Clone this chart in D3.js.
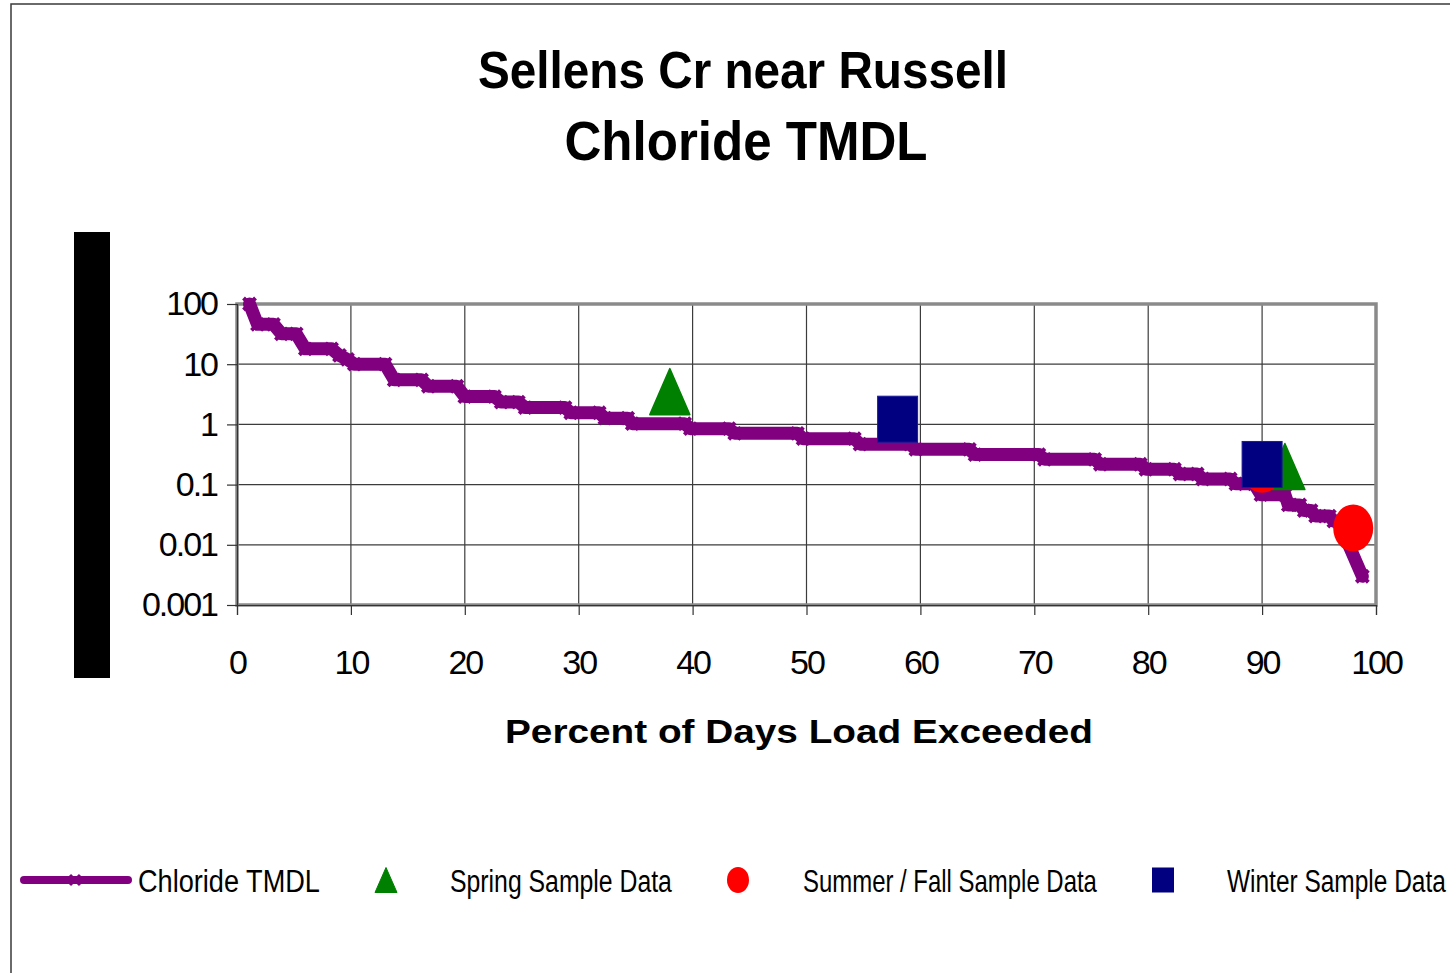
<!DOCTYPE html>
<html>
<head>
<meta charset="utf-8">
<script src="https://cdn.jsdelivr.net/npm/d3@7"></script>
<style>
  html, body { margin: 0; padding: 0; background: #ffffff; }
  svg { display: block; }
  text { font-family: "Liberation Sans", Arial, sans-serif; }
</style>
</head>
<body>
<svg id="chart" width="1450" height="973"></svg>
<script>
// ---------- data ----------
const titleLines = ["Sellens Cr near Russell", "Chloride TMDL"];
const xAxisTitle = "Percent of Days Load Exceeded";

const xTicks = [0, 10, 20, 30, 40, 50, 60, 70, 80, 90, 100];
const yTicks = [0.001, 0.01, 0.1, 1, 10, 100];
const yTickLabels = ["0.001", "0.01", "0.1", "1", "10", "100"];

// Chloride TMDL curve (percent of days exceeded, load)
const tmdlPct = [1.1, 1.8, 3.2, 3.9, 5.2, 6.0, 8.3, 9.0, 9.7, 10.3, 13.0, 13.8, 16.2, 16.8, 19.3, 20.0,
  22.6, 23.2, 24.7, 25.3, 28.8, 29.3, 31.8, 32.3, 34.3, 34.7, 39.3, 39.8, 43.2, 43.7, 49.2, 49.7,
  54.2, 54.7, 59.1, 59.6, 64.3, 64.8, 70.4, 70.9, 75.3, 75.8, 79.3, 79.8, 82.3, 82.8, 84.3, 84.8,
  87.2, 87.7, 89.3, 89.9, 92.0, 92.3, 93.3, 93.7, 94.3, 94.7, 95.9, 96.3, 96.7, 98.8];
const tmdlLoad = [100, 46, 46, 32, 32, 18, 18, 14, 12, 10, 10, 5.5, 5.5, 4.3, 4.3, 2.9,
  2.9, 2.35, 2.35, 1.9, 1.9, 1.56, 1.56, 1.27, 1.27, 1.03, 1.03, 0.85, 0.85, 0.71, 0.71, 0.58,
  0.58, 0.47, 0.47, 0.385, 0.385, 0.315, 0.315, 0.263, 0.263, 0.218, 0.218, 0.18, 0.18, 0.15, 0.15, 0.124,
  0.124, 0.103, 0.103, 0.068, 0.068, 0.046, 0.046, 0.037, 0.037, 0.030, 0.030, 0.0247, 0.0247, 0.003];

const springPct = [38, 92];
const springLoad = [3.5, 0.2];
const summerPct = [90, 98];
const summerLoad = [0.18, 0.019];
const winterPct = [58, 90];
const winterLoad = [1.22, 0.216];

const legendLabels = ["Chloride TMDL", "Spring Sample Data", "Summer / Fall Sample Data", "Winter Sample Data"];

// ---------- drawing ----------
const svg = d3.select("#chart");
const purple = "#800080", green = "#008000", red = "#ff0000", navy = "#000080";

// outer frame
svg.append("rect").attr("x", 11).attr("y", 4).attr("width", 1500).attr("height", 1000)
  .attr("fill", "#ffffff").attr("stroke", "#3a3a3a").attr("stroke-width", 1.5);

// title
svg.append("text").attr("x", 743).attr("y", 88).attr("text-anchor", "middle")
  .attr("font-size", 52).attr("font-weight", "bold").attr("fill", "#000")
  .attr("textLength", 530).attr("lengthAdjust", "spacingAndGlyphs").text(titleLines[0]);
svg.append("text").attr("x", 746).attr("y", 160).attr("text-anchor", "middle")
  .attr("font-size", 56).attr("font-weight", "bold").attr("fill", "#000")
  .attr("textLength", 363).attr("lengthAdjust", "spacingAndGlyphs").text(titleLines[1]);

// black y-axis title block
svg.append("rect").attr("x", 74).attr("y", 232).attr("width", 36).attr("height", 446).attr("fill", "#000");

// scales
const x = d3.scaleLinear().domain([0, 100]).range([237, 1376]);
const y = d3.scaleLog().domain([0.001, 100]).range([605, 304]);

// gridlines
const grid = svg.append("g");
grid.selectAll("line.h").data(yTicks).join("line")
  .attr("x1", x(0)).attr("x2", x(100)).attr("y1", d => y(d)).attr("y2", d => y(d))
  .attr("stroke", "#3c3c3c").attr("stroke-width", 1.2);
grid.selectAll("line.v").data(xTicks).join("line")
  .attr("y1", y(100)).attr("y2", y(0.001)).attr("x1", d => x(d)).attr("x2", d => x(d))
  .attr("stroke", "#3c3c3c").attr("stroke-width", 1.2);

// plot area border
svg.append("rect").attr("x", x(0)).attr("y", y(100)).attr("width", x(100) - x(0)).attr("height", y(0.001) - y(100))
  .attr("fill", "none").attr("stroke", "#8a8a8a").attr("stroke-width", 3.5);

// axes
const xAxis = d3.axisBottom(x).tickValues(xTicks).tickSize(10).tickPadding(30).tickFormat(d3.format("d"));
const gx = svg.append("g").attr("transform", `translate(0,${y(0.001)})`).call(xAxis);
gx.select(".domain").attr("stroke", "#333").attr("stroke-width", 1.2);
gx.selectAll(".tick line").attr("stroke", "#333").attr("stroke-width", 1.2);
gx.selectAll(".tick text").attr("font-size", 34).attr("fill", "#000").attr("letter-spacing", "-2px")
  .attr("font-family", "'Liberation Sans', Arial, sans-serif").attr("dy", "0.85em");

const yAxis = d3.axisLeft(y).tickValues(yTicks).tickSize(10).tickPadding(12)
  .tickFormat((d, i) => yTickLabels[i]);
const gy = svg.append("g").attr("transform", `translate(${x(0)},0)`).call(yAxis);
gy.select(".domain").attr("stroke", "#333").attr("stroke-width", 1.2);
gy.selectAll(".tick line").attr("stroke", "#333").attr("stroke-width", 1.2);
gy.selectAll(".tick text").attr("font-size", 34).attr("fill", "#000").attr("letter-spacing", "-2px")
  .attr("font-family", "'Liberation Sans', Arial, sans-serif").attr("dx", "2px");

// x-axis title
svg.append("text").attr("x", 799).attr("y", 743).attr("text-anchor", "middle")
  .attr("font-size", 33).attr("font-weight", "bold").attr("fill", "#000")
  .attr("textLength", 588).attr("lengthAdjust", "spacingAndGlyphs").text(xAxisTitle);

// TMDL line
const tmdl = tmdlPct.map((p, i) => ({ p, v: tmdlLoad[i] }));
const line = d3.line().x(d => x(d.p)).y(d => y(d.v));
svg.append("path").datum(tmdl).attr("d", line).attr("fill", "none")
  .attr("stroke", purple).attr("stroke-width", 13).attr("stroke-linejoin", "round").attr("stroke-linecap", "round");
const xMark = s => `M${-s},${-s}L${s},${s}M${-s},${s}L${s},${-s}`;
svg.append("g").selectAll("path").data(tmdl).join("path")
  .attr("transform", d => `translate(${x(d.p)},${y(d.v)})`)
  .attr("d", xMark(6)).attr("stroke", purple).attr("stroke-width", 4).attr("fill", "none");

// sample markers
const triPath = (w, h) => `M0,${-h / 2}L${w / 2},${h / 2}L${-w / 2},${h / 2}Z`;
const spring = springPct.map((p, i) => ({ p, v: springLoad[i] }));
const summer = summerPct.map((p, i) => ({ p, v: summerLoad[i] }));
const winter = winterPct.map((p, i) => ({ p, v: winterLoad[i] }));

svg.append("g").selectAll("path").data(spring).join("path")
  .attr("transform", d => `translate(${x(d.p)},${y(d.v)})`)
  .attr("d", triPath(40, 46)).attr("fill", green).attr("stroke", green).attr("stroke-width", 1.5).attr("stroke-linejoin", "round");
svg.append("g").selectAll("ellipse").data(summer).join("ellipse")
  .attr("cx", d => x(d.p)).attr("cy", d => y(d.v)).attr("rx", 20).attr("ry", 23.5).attr("fill", red);
svg.append("g").selectAll("rect").data(winter).join("rect")
  .attr("x", d => x(d.p) - 20).attr("y", d => y(d.v) - 23).attr("width", 40).attr("height", 46)
  .attr("fill", navy).attr("stroke", "#1a1a9a").attr("stroke-width", 1);

// legend
const leg = svg.append("g");
const ly = 880;
leg.append("line").attr("x1", 24).attr("x2", 128).attr("y1", ly).attr("y2", ly)
  .attr("stroke", purple).attr("stroke-width", 8).attr("stroke-linecap", "round");
leg.append("path").attr("transform", `translate(75,${ly})`).attr("d", xMark(5))
  .attr("stroke", purple).attr("stroke-width", 3).attr("fill", "none");
leg.append("path").attr("transform", `translate(386,${ly})`).attr("d", triPath(22, 25)).attr("fill", green)
  .attr("stroke", green).attr("stroke-linejoin", "round");
leg.append("ellipse").attr("cx", 738).attr("cy", ly).attr("rx", 11).attr("ry", 13).attr("fill", red);
leg.append("rect").attr("x", 1152).attr("y", ly - 12.5).attr("width", 22).attr("height", 25).attr("fill", navy);

const legText = [
  { t: legendLabels[0], x: 138, w: 182 },
  { t: legendLabels[1], x: 450, w: 222 },
  { t: legendLabels[2], x: 803, w: 294 },
  { t: legendLabels[3], x: 1227, w: 219 }
];
leg.selectAll("text").data(legText).join("text")
  .attr("x", 0).attr("y", 0).attr("font-size", 31).attr("fill", "#000")
  .text(d => d.t)
  .each(function (d) {
    const natural = this.getComputedTextLength();
    const s = d.w / natural;
    d3.select(this).attr("transform", `translate(${d.x},${ly + 12}) scale(${s},1)`);
  });
</script>
</body>
</html>
